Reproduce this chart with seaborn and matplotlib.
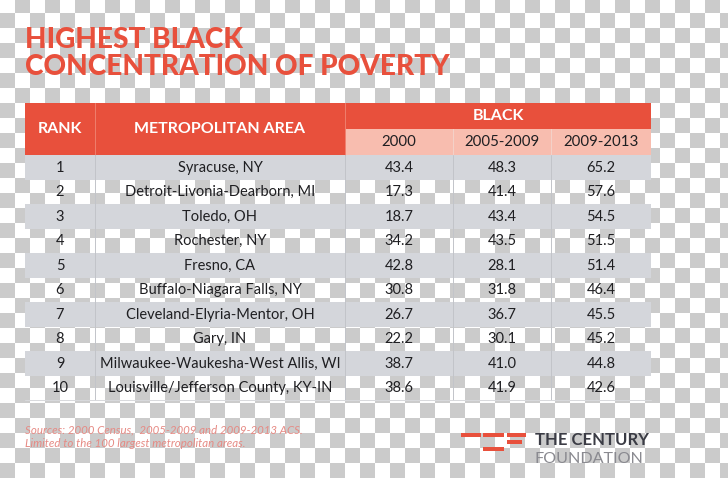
import numpy as np
import matplotlib
matplotlib.use("Agg")
import matplotlib.pyplot as plt
from matplotlib.colors import ListedColormap
from matplotlib.patches import Rectangle
import seaborn as sns

# table data
ranks = [1, 2, 3, 4, 5, 6, 7, 8, 9, 10]
metros = ["Syracuse, NY", "Detroit-Livonia-Dearborn, MI", "Toledo, OH",
          "Rochester, NY", "Fresno, CA", "Buffalo-Niagara Falls, NY",
          "Cleveland-Elyria-Mentor, OH", "Gary, IN",
          "Milwaukee-Waukesha-West Allis, WI",
          "Louisville/Jefferson County, KY-IN"]
v2000 = [43.4, 17.3, 18.7, 34.2, 42.8, 30.8, 26.7, 22.2, 38.7, 38.6]
v0509 = [48.3, 41.4, 43.4, 43.5, 28.1, 31.8, 36.7, 30.1, 41.0, 41.9]
v0913 = [65.2, 57.6, 54.5, 51.5, 51.4, 46.4, 45.5, 45.2, 44.8, 42.6]
periods = ["2000", "2005-2009", "2009-2013"]

sns.set_theme(style="white")
plt.rcParams["font.family"] = ["Lato", "DejaVu Sans"]

RED = "#e8503c"
PINK = "#f8bdaf"
BAND = "#d4d6db"
TXT = "#1f1f22"

W, H = 728, 478
fig = plt.figure(figsize=(W / 100, H / 100), dpi=100)

# transparency checkerboard as background
sq = 15
nr, nc = H // sq + 2, W // sq + 2
checker = (np.add.outer(np.arange(nr), np.arange(nc)) % 2).astype(float)
bg = fig.add_axes([0, 0, 1, 1])
sns.heatmap(checker, ax=bg, cbar=False, cmap=ListedColormap(["white", "#cbcbcb"]),
            xticklabels=False, yticklabels=False)
bg.set_xlim(0.1 / sq, (W + 0.1) / sq)
bg.set_ylim((H + 2.3) / sq, 2.3 / sq)
bg.axis("off")

ax = fig.add_axes([0, 0, 1, 1])
ax.set_facecolor("none")
ax.set_xlim(0, W)
ax.set_ylim(H, 0)
ax.axis("off")

# geometry (pixels)
left, right = 25, 651
col_edges = [25, 95, 345, 453, 551, 651]
col_mid = [(a + b) / 2 for a, b in zip(col_edges[:-1], col_edges[1:])]
head_top, head_mid, head_bot = 103, 129, 155
row_h = 24.5
row_y = [head_bot + row_h * (i + 0.5) for i in range(len(ranks))]
table_bot = head_bot + row_h * len(ranks)

# title
ax.text(left, 48, "HIGHEST BLACK", color=RED, fontsize=20.2, fontweight="black",
        va="baseline", ha="left")
ax.text(left, 75, "CONCENTRATION OF POVERTY", color=RED, fontsize=20.2,
        fontweight="black", va="baseline", ha="left")

# header
ax.add_patch(Rectangle((left, head_top), right - left, head_bot - head_top,
                       color=RED, lw=0))
ax.add_patch(Rectangle((col_edges[2], head_mid), right - col_edges[2],
                       head_bot - head_mid, color=PINK, lw=0))
hy = (head_top + head_bot) / 2
ax.text(col_mid[0], hy, "RANK", color="white", fontsize=11.5, fontweight="bold",
        ha="center", va="center")
ax.text(col_mid[1], hy, "METROPOLITAN AREA", color="white", fontsize=11.5,
        fontweight="bold", ha="center", va="center")
ax.text((col_edges[2] + right) / 2, (head_top + head_mid) / 2, "BLACK",
        color="white", fontsize=11.5, fontweight="bold", ha="center", va="center")
for x, p in zip(col_mid[2:], periods):
    ax.text(x, (head_mid + head_bot) / 2 + 0.5, p, color=TXT, fontsize=10.8,
            ha="center", va="center")

# striped rows
odd = [y for i, y in enumerate(row_y) if i % 2 == 0]
ax.barh(odd, right - left, left=left, height=row_h, color=BAND, lw=0)

# dividers
for x in col_edges[1:3]:
    ax.plot([x, x], [head_top, head_bot], color="#ef7f6d", lw=0.7)
for x in col_edges[3:5]:
    ax.plot([x, x], [head_mid, head_bot], color="#f3d2c9", lw=0.7)
for x in col_edges[1:5]:
    ax.plot([x, x], [head_bot, table_bot], color="#c2c4c9", lw=0.7)
ax.plot([left, right], [table_bot, table_bot], color="#d8d9dc", lw=0.7)

# cell text
for i, y in enumerate(row_y):
    ax.text(col_mid[0], y + 0.5, str(ranks[i]), color=TXT, fontsize=10.5,
            ha="center", va="center")
    ax.text(col_mid[1], y + 0.5, metros[i], color=TXT, fontsize=10.5,
            ha="center", va="center")
    for x, vals in zip(col_mid[2:], [v2000, v0509, v0913]):
        ax.text(x, y + 0.5, f"{vals[i]:.1f}", color=TXT, fontsize=10.5,
                ha="center", va="center")

# sources
src_col = "#e68a84"
ax.text(left, 433, "Sources: 2000 Census,  2005-2009 and 2009-2013 ACS.",
        color=src_col, fontsize=8.3, style="italic", va="baseline")
ax.text(left, 447, "Limited to the 100 largest metropolitan areas.",
        color=src_col, fontsize=8.3, style="italic", va="baseline")

# logo
for x0, y0, w in [(461, 432.5, 20), (483, 432.5, 21), (507, 432.5, 19),
                  (507, 440, 15), (483, 447, 21)]:
    ax.add_patch(Rectangle((x0, y0), w, 4, color=RED, lw=0))
ax.text(535, 445, "THE CENTURY", color="#3b3c45", fontsize=12, fontweight="bold",
        va="baseline")
ax.text(535, 463, "FOUNDATION", color="#8a8a90", fontsize=11.6, va="baseline")

fig.savefig("out.png", dpi=100)
